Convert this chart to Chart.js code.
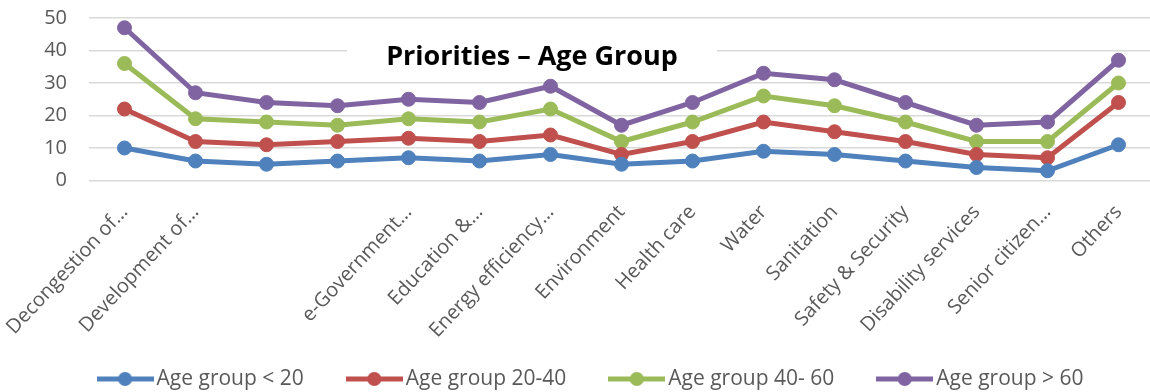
<!DOCTYPE html>
<html>
<head>
<meta charset="utf-8">
<script src="https://cdn.jsdelivr.net/npm/chart.js@4.4.1/dist/chart.umd.min.js"></script>
<style>
  html, body { margin: 0; padding: 0; background: #fff; overflow: hidden; }
</style>
</head>
<body>
<canvas id="myChart" width="1154" height="392"></canvas>
<script>
// categories (two of them have no label in the source chart)
const categories = ['Decongestion of\u2026', 'Development of\u2026', '', '', 'e-Government\u2026',
  'Education &\u2026', 'Energy efficiency\u2026', 'Environment', 'Health care', 'Water',
  'Sanitation', 'Safety & Security', 'Disability services', 'Senior citizen\u2026', 'Others'];

// stacked line chart, each series is its own share
const under20 = [10, 6, 5, 6, 7, 6, 8, 5, 6, 9, 8, 6, 4, 3, 11];
const age20to40 = [12, 6, 6, 6, 6, 6, 6, 3, 6, 9, 7, 6, 4, 4, 13];
const age40to60 = [14, 7, 7, 5, 6, 6, 8, 4, 6, 8, 8, 6, 4, 5, 6];
const over60 = [11, 8, 6, 6, 6, 6, 7, 5, 6, 7, 8, 6, 5, 6, 7];

const seriesNames = ['Age group < 20', 'Age group 20-40', 'Age group 40- 60', 'Age group > 60'];
const yTicks = [0, 10, 20, 30, 40, 50];

const colors = ['#4f81bd', '#c0504d', '#9bbb59', '#8064a2'];

Chart.defaults.font.family = "'Open Sans', sans-serif";
Chart.defaults.color = '#595959';

// little line + dot used in the legend
function legendIcon(color) {
  var c = document.createElement('canvas');
  c.width = 57;
  c.height = 16;
  var g = c.getContext('2d');
  g.strokeStyle = color;
  g.lineWidth = 5;
  g.beginPath();
  g.moveTo(0, 8);
  g.lineTo(57, 8);
  g.stroke();
  g.fillStyle = color;
  g.beginPath();
  g.arc(28.5, 8, 7, 0, Math.PI * 2);
  g.fill();
  return c;
}

// title box sits on top of the plot area, like in excel
const titleBox = {
  id: 'titleBox',
  afterLayout(chart) {
    // let the rotated labels run down past the axis box instead of being clipped
    chart.scales.x.bottom = chart.height;
  },
  beforeDatasetsDraw(chart) {
    const ctx = chart.ctx;
    ctx.save();
    ctx.fillStyle = '#fff';
    ctx.fillRect(347, 30, 370, 48);
    ctx.fillStyle = '#000';
    ctx.font = "bold 27px 'Open Sans'";
    ctx.textAlign = 'center';
    ctx.textBaseline = 'alphabetic';
    ctx.fillText('Priorities \u2013 Age Group', 532, 65);
    ctx.restore();
  }
};

function makeSet(i, data) {
  return {
    label: seriesNames[i],
    data: data,
    borderColor: colors[i],
    backgroundColor: colors[i],
    borderWidth: 5,
    pointRadius: 7,
    pointBorderWidth: 1,
    pointHoverRadius: 7,
    fill: false,
    tension: 0
  };
}

const ctx = document.getElementById('myChart');

new Chart(ctx, {
  type: 'line',
  data: {
    labels: categories,
    datasets: [
      makeSet(0, under20),
      makeSet(1, age20to40),
      makeSet(2, age40to60),
      makeSet(3, over60)
    ]
  },
  plugins: [titleBox],
  options: {
    responsive: false,
    animation: false,
    layout: {
      autoPadding: false,
      padding: { top: 18, left: 33.5, right: 0, bottom: -7.5 }
    },
    scales: {
      x: {
        offset: true,
        grid: { display: false },
        border: { display: false },
        ticks: {
          autoSkip: false,
          maxRotation: 47,
          minRotation: 47,
          padding: 12,
          font: { size: 20 }
        },
        afterFit: function (s) {
          s.height = 138.5;
          s.paddingLeft = 0;
          s.paddingRight = 0;
        }
      },
      y: {
        stacked: true,
        min: 0,
        max: 50,
        afterBuildTicks: function (s) {
          s.ticks = yTicks.map(function (v) { return { value: v }; });
        },
        grid: { color: '#d9d9d9', lineWidth: 1.5, drawTicks: false },
        border: { display: false },
        ticks: { padding: 22, font: { size: 20 } },
        afterFit: function (s) {
          s.width = 55.5;
          s.paddingTop = 0;
          s.paddingBottom = 0;
        }
      }
    },
    plugins: {
      tooltip: { enabled: false },
      legend: {
        position: 'bottom',
        labels: {
          usePointStyle: true,
          pointStyleWidth: 42,
          padding: 49.5,
          font: { size: 21 },
          generateLabels: function (chart) {
            var items = Chart.defaults.plugins.legend.labels.generateLabels(chart);
            items.forEach(function (it, i) {
              it.pointStyle = legendIcon(colors[i]);
            });
            return items;
          }
        }
      }
    }
  }
});
</script>
</body>
</html>
